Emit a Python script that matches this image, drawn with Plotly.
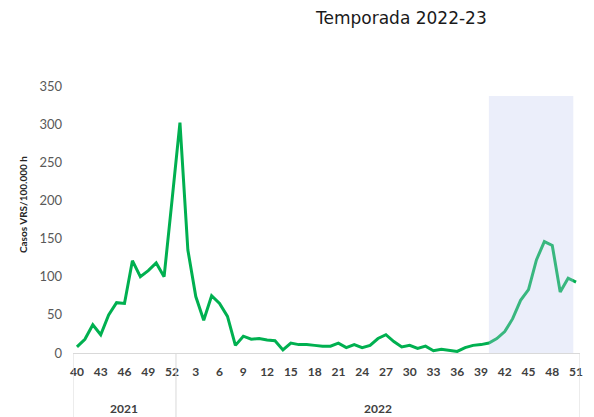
import plotly.graph_objects as go

# --- data ---
weeks_2021 = list(range(40, 53))          # epidemiological weeks 40-52 of 2021
weeks_2022 = list(range(1, 52))           # weeks 1-51 of 2022
values_2021 = [8, 18, 37, 24, 50, 66, 65, 121, 100, 108, 118, 100, 200]
values_2022 = [302, 135, 74, 43, 75, 65, 48, 10, 22, 18,
               19, 17, 16, 4, 13, 11, 11, 10, 9, 9,
               13, 7, 11, 7, 10, 19, 24, 15, 8, 10,
               6, 9, 3, 5, 3, 2, 7, 10, 11, 13,
               19, 28, 45, 69, 83, 122, 146, 141, 80, 98,
               93]
year_labels = ["2021", "2022"]
season_title = "Temporada 2022-23"
y_title = "Casos VRS/100.000 h"
y_ticks = [0, 50, 100, 150, 200, 250, 300, 350]
season_start_week = 40   # shaded season in 2022
season_end_week = 50.65

weeks = weeks_2021 + weeks_2022
values = values_2021 + values_2022
x_idx = list(range(len(values)))
tick_idx = x_idx[::3]
tick_text = [str(weeks[i]) for i in tick_idx]

n21 = len(weeks_2021)
shade_x0 = n21 + season_start_week - 1
shade_x1 = n21 + season_end_week - 1

fig = go.Figure()
fig.add_trace(go.Scatter(
    x=x_idx, y=values, mode="lines",
    line=dict(color="#00B050", width=3),
    hoverinfo="skip", showlegend=False,
))

# shaded season band (drawn above the line, translucent)
fig.add_shape(type="rect", xref="x", yref="y",
              x0=shade_x0, x1=shade_x1, y0=0, y1=337,
              fillcolor="rgba(190,198,240,0.30)", line=dict(width=0), layer="above")

# group divider lines below the axis
for xv in [-0.5, n21 - 0.5, len(values) - 0.5]:
    fig.add_shape(type="line", xref="x", yref="paper",
                  x0=xv, x1=xv, y0=0, y1=-0.3,
                  line=dict(color="#D9D9D9", width=1))

# year group labels
fig.add_annotation(x=(n21 - 1) / 2, y=-0.206, xref="x", yref="paper",
                   xanchor="center", yanchor="middle",
                   text=year_labels[0], showarrow=False,
                   font=dict(family="Lato", size=12, color="#404040", weight="bold"))
fig.add_annotation(x=(n21 - 0.5 + len(values) - 0.5) / 2, y=-0.206, xref="x", yref="paper",
                   xanchor="center", yanchor="middle",
                   text=year_labels[1], showarrow=False,
                   font=dict(family="Lato", size=12, color="#404040", weight="bold"))

# y-axis title
fig.add_annotation(x=-0.0986, y=0.554, xref="paper", yref="paper",
                   xanchor="center", yanchor="middle",
                   text=y_title, showarrow=False, textangle=-90,
                   font=dict(family="Lato", size=10, color="#262626", weight="bold"))

# chart title
fig.add_annotation(x=0.647, y=1.256, xref="paper", yref="paper",
                   xanchor="center", yanchor="middle",
                   text=season_title, showarrow=False,
                   font=dict(family="DejaVu Sans", size=17, color="#1a1a1a"))

fig.update_layout(
    width=594, height=417,
    margin=dict(l=73, r=14, t=86, b=64),
    plot_bgcolor="white", paper_bgcolor="white",
    xaxis=dict(range=[-0.5, len(values) - 0.5], tickvals=tick_idx, ticktext=tick_text,
               showgrid=False, zeroline=False, showline=True, linecolor="#D9D9D9",
               linewidth=1, ticks="", ticklabelstandoff=8,
               tickfont=dict(family="Lato", size=12, color="#404040", weight="bold")),
    yaxis=dict(range=[0, 350], tickvals=y_ticks, showgrid=False, zeroline=False,
               showline=False, ticks="", ticklabelstandoff=10,
               tickfont=dict(family="Lato", size=13, color="#595959")),
)

fig.write_html("out.html",
               config={"displayModeBar": False},
               post_script="document.body.style.margin='0';document.body.style.overflow='hidden';")
